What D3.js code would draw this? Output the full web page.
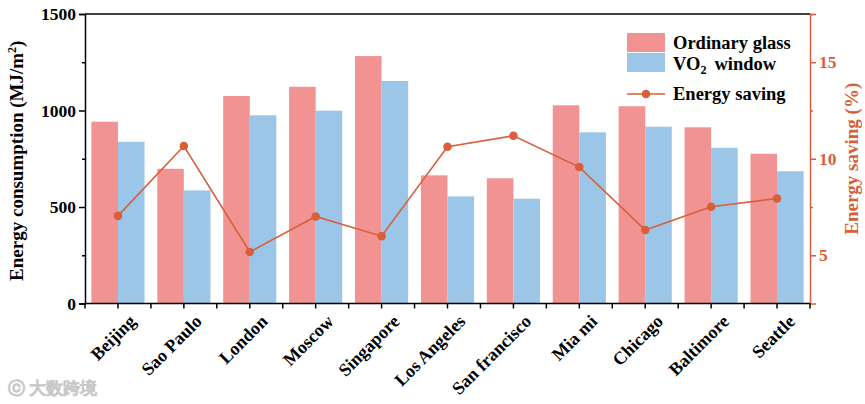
<!DOCTYPE html>
<html><head><meta charset="utf-8">
<script src="https://cdn.jsdelivr.net/npm/d3@7"></script>
<style>body{margin:0;background:#fff}svg{display:block}text{font-family:"Liberation Serif","Times New Roman",serif;font-weight:bold}</style>
</head><body><svg id="c" width="865" height="404"></svg>
<script>
const cities = ["Beijing","Sao Paulo","London","Moscow","Singapore","Los Angeles","San francisco","Mia mi","Chicago","Baltimore","Seattle"];
const ordinary = [942,698,1075,1123,1282,664,649,1027,1022,913,776];
const vo2 = [838,586,975,999,1153,555,543,887,916,807,685];
const saving = [7.04,10.66,5.17,7.01,5.99,10.62,11.19,9.57,6.31,7.51,7.94];
const leftTicks = [0,500,1000,1500];
const leftMinor = [250,750,1250];
const rightTicks = [5,10,15];
const rightMinor = [7.5,12.5,17.5];

const pink = "#f29393", blue = "#9cc6e8", orange = "#d95f3a";
const svg = d3.select("#c");
const L = 85, R = 810, T = 14, B = 303.5;

const x = d3.scaleBand().domain(cities).range([L, R]).paddingInner(0).paddingOuter(0);
const xi = d3.scaleBand().domain(["o","v"]).range([0, x.bandwidth()]).paddingInner(0).paddingOuter(0.24);
const y = d3.scaleLinear().domain([0,1500]).range([B, T]);
const y2 = d3.scaleLinear().domain([2.5,17.5]).range([B, T]);

// bars
const g = svg.append("g");
cities.forEach((c,i)=>{
  g.append("rect").attr("x", x(c)+xi("o")).attr("y", y(ordinary[i])).attr("width", xi.bandwidth()).attr("height", B - y(ordinary[i])).attr("fill", pink);
  g.append("rect").attr("x", x(c)+xi("v")).attr("y", y(vo2[i])).attr("width", xi.bandwidth()).attr("height", B - y(vo2[i])).attr("fill", blue);
});

// line
const cx = c => x(c) + x.bandwidth()/2;
svg.append("path").datum(saving).attr("fill","none").attr("stroke",orange).attr("stroke-width",1.6)
  .attr("d", d3.line().x((d,i)=>cx(cities[i])).y(d=>y2(d)));
svg.selectAll("circle.pt").data(saving).enter().append("circle").attr("class","pt")
  .attr("cx",(d,i)=>cx(cities[i])).attr("cy",d=>y2(d)).attr("r",4.3).attr("fill",orange);

// top border
svg.append("line").attr("x1",L).attr("x2",R).attr("y1",T).attr("y2",T).attr("stroke","#000").attr("stroke-width",1.5);

// left axis
const la = svg.append("g").attr("transform",`translate(${L},0)`)
  .call(d3.axisLeft(y).tickValues(leftTicks).tickSize(6).tickPadding(3).tickFormat(d3.format("d")));
la.append("g").call(d3.axisLeft(y).tickValues(leftMinor).tickSize(3).tickFormat(""));
la.selectAll(".domain").attr("stroke","#000").attr("stroke-width",1.5);
la.selectAll("line").attr("stroke","#000").attr("stroke-width",1.5);
la.selectAll("text").attr("font-size",17.5).attr("fill","#000").attr("font-family","Liberation Serif").attr("font-weight","bold");
la.selectAll("g g .domain").remove();

// right axis
const ra = svg.append("g").attr("transform",`translate(${R},0)`)
  .call(d3.axisRight(y2).tickValues(rightTicks).tickSize(6).tickPadding(3).tickFormat(d3.format("d")));
ra.append("g").call(d3.axisRight(y2).tickValues(rightMinor).tickSize(3).tickFormat(""));
ra.selectAll(".domain").attr("stroke",orange).attr("stroke-width",1.5);
ra.selectAll("line").attr("stroke",orange).attr("stroke-width",1.5);
ra.selectAll("text").attr("font-size",17.5).attr("fill",orange).attr("font-family","Liberation Serif").attr("font-weight","bold");
ra.selectAll("g g .domain").remove();

// bottom axis
const ticksX = [];
cities.forEach(c=>{ ticksX.push(x(c)); ticksX.push(cx(c)); });
ticksX.push(R);
const bx = svg.append("g");
bx.append("line").attr("x1",L).attr("x2",R).attr("y1",B).attr("y2",B).attr("stroke","#000").attr("stroke-width",1.5);
bx.selectAll("line.t").data(ticksX).enter().append("line").attr("class","t")
  .attr("x1",d=>d).attr("x2",d=>d).attr("y1",B).attr("y2",B+5).attr("stroke","#000").attr("stroke-width",1.5);
bx.selectAll("text").data(cities).enter().append("text")
  .attr("transform",d=>`translate(${cx(d)+19},${B+19}) rotate(-45)`)
  .attr("text-anchor","end").attr("font-size",18).attr("fill","#000").text(d=>d);

// axis titles
const lt = svg.append("text").attr("transform",`translate(23,${(T+B)/2+2}) rotate(-90)`).attr("text-anchor","middle").attr("font-size",19).attr("fill","#000");
lt.append("tspan").text("Energy consumption (MJ/m");
lt.append("tspan").attr("dy",-7).attr("font-size",12).text("2");
lt.append("tspan").attr("dy",7).text(")");
svg.append("text").attr("transform",`translate(858,${(T+B)/2}) rotate(-90)`).attr("text-anchor","middle").attr("font-size",19).attr("fill",orange).text("Energy saving (%)");

// legend
const lg = svg.append("g");
lg.append("rect").attr("x",627).attr("y",33).attr("width",38).attr("height",19).attr("fill",pink);
lg.append("rect").attr("x",627).attr("y",53).attr("width",38).attr("height",19).attr("fill",blue);
lg.append("line").attr("x1",627).attr("x2",665).attr("y1",94).attr("y2",94).attr("stroke",orange).attr("stroke-width",1.6);
lg.append("circle").attr("cx",646).attr("cy",94).attr("r",4.3).attr("fill",orange);
lg.append("text").attr("x",673).attr("y",49).attr("font-size",18.5).attr("fill","#000").text("Ordinary glass");
const vt = lg.append("text").attr("x",673).attr("y",70).attr("font-size",18.5).attr("fill","#000");
vt.append("tspan").text("VO");
vt.append("tspan").attr("dy",4).attr("font-size",12).text("2");
vt.append("tspan").attr("dy",-4).attr("dx",8).text("window");
lg.append("text").attr("x",673).attr("y",100).attr("font-size",18.5).attr("fill","#000").text("Energy saving");

// watermark
svg.append("text").attr("x",8).attr("y",394).attr("font-size",17).attr("fill","#f4f4f4").attr("stroke","#c8c8c8").attr("stroke-width",0.5)
  .attr("font-family","Noto Sans CJK SC").attr("font-weight","normal").text("\u24d2 大数跨境");
</script></body></html>
